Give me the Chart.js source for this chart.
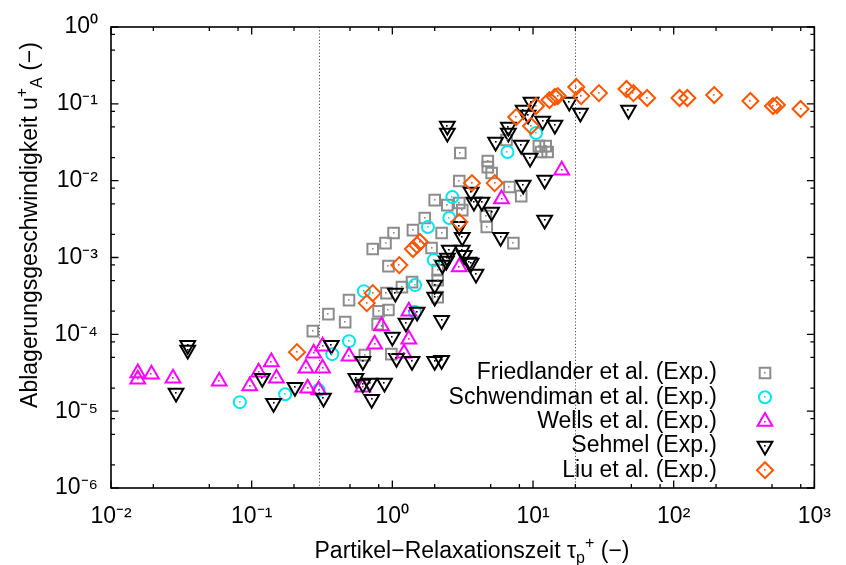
<!DOCTYPE html>
<html><head><meta charset="utf-8">
<script src="https://cdn.jsdelivr.net/npm/chart.js@4.4.1/dist/chart.umd.min.js"></script>
<style>html,body{margin:0;padding:0;background:#fff}</style>
</head><body>
<canvas id="c" width="846" height="565"></canvas>
<script>
// ---------- data ----------
const seriesNames = ['Friedlander et al. (Exp.)', 'Schwendiman et al. (Exp.)', 'Wells et al. (Exp.)', 'Sehmel (Exp.)', 'Liu et al. (Exp.)'];

const friedlanderX = [0.272,0.351,0.462,0.492,0.637,0.725,0.894,1.02,0.938,0.908,0.798,0.938,0.786,0.984,1.17,1.38,1.40,1.70,1.90,2.00,2.10,2.10,2.10,2.24,2.46,3.04,2.99,2.99,3.14,4.62,4.69,4.77,4.77,5.08,6.80,7.25,8.24,11.0,12.3,11.4,12.7,6.48];
const friedlanderY = [1.10e-4,1.83e-4,1.44e-4,2.79e-4,5.36e-5,1.29e-3,1.54e-3,2.08e-3,7.73e-4,3.44e-4,2.00e-4,2.07e-4,1.36e-4,5.52e-5,4.12e-4,4.78e-4,2.27e-3,3.26e-3,1.33e-3,5.59e-3,6.85e-4,5.08e-4,3.05e-4,2.08e-3,4.81e-3,2.29e-2,9.88e-3,5.11e-3,4.14e-3,3.46e-3,2.49e-3,1.80e-2,1.50e-2,1.26e-2,8.26e-3,1.54e-3,6.30e-3,2.82e-2,2.82e-2,2.36e-2,2.36e-2,3.38e-2];

const schwendimanX = [0.0824,0.173,0.299,0.374,0.492,0.627,1.45,1.45,1.79,1.97,2.54,2.67,6.58,10.5];
const schwendimanY = [1.31e-5,1.66e-5,1.88e-5,5.52e-5,8.15e-5,3.65e-4,4.37e-4,1.95e-4,2.49e-3,9.25e-4,3.26e-3,6.11e-3,2.36e-2,4.17e-2];

const wellsX = [0.0155,0.0155,0.0194,0.0276,0.0588,0.0968,0.112,0.138,0.150,0.243,0.250,0.276,0.299,0.319,0.319,0.492,0.617,0.748,0.838,1.21,1.31,1.31,2.99,5.97,16.0];
const wellsY = [3.13e-5,2.61e-5,3.03e-5,2.69e-5,2.46e-5,2.12e-5,3.22e-5,4.35e-5,2.69e-5,3.63e-5,1.99e-5,5.69e-5,1.88e-5,3.63e-5,7.02e-5,5.20e-5,2.05e-5,7.45e-5,1.28e-4,5.69e-5,2.00e-4,8.66e-5,7.50e-4,5.76e-3,1.37e-2];

const sehmelX = [0.0351,0.0351,0.0290,0.119,0.143,0.203,0.324,0.368,0.551,0.617,0.617,0.690,0.713,0.879,1.00,1.05,1.25,1.07,1.38,2.00,2.24,1.50,2.00,2.00,2.24,2.27,2.46,3.24,3.63,3.93,3.63,3.80,4.33,5.08,8.51,12.1,12.1,5.88,3.14,2.54,3.14,2.42,3.51,2.99,2.46,2.46,6.68,6.68,5.42,8.24,9.53,9.68,8.51,9.23,11.7,14.3,18.1,21.7,47.7];
const sehmelY = [7.23e-5,6.23e-5,1.72e-5,2.69e-5,1.27e-5,2.05e-5,1.48e-5,7.23e-5,2.69e-5,4.48e-5,2.25e-5,2.32e-5,1.43e-5,2.32e-5,9.20e-5,3.44e-4,1.40e-4,4.90e-5,4.48e-5,4.48e-5,4.61e-5,1.95e-4,4.37e-4,3.05e-4,1.53e-4,7.96e-4,9.82e-4,1.07e-3,8.45e-4,6.08e-4,7.11e-3,5.27e-3,5.27e-3,3.90e-3,8.77e-3,1.02e-2,3.07e-3,1.84e-3,1.84e-3,1.25e-3,1.25e-3,8.98e-4,8.71e-4,2.56e-3,5.14e-2,4.17e-2,4.99e-2,4.17e-2,3.18e-2,2.91e-2,1.97e-2,0.106,8.30e-2,7.15e-2,5.97e-2,5.30e-2,0.106,7.59e-2,8.30e-2];

const liuX = [0.210,0.658,0.725,1.12,1.40,1.50,1.57,2.99,3.68,5.34,7.60,9.68,10.5,13.1,14.3,15.0,20.3,22.0,29.4,46.2,51.7,64.7,110,125,194,351,508,542,798];
const liuY = [5.86e-5,2.55e-4,3.44e-4,7.96e-4,1.29e-3,1.45e-3,1.59e-3,2.89e-3,9.30e-3,9.30e-3,6.73e-2,5.14e-2,9.36e-2,0.112,0.123,0.126,0.166,0.126,0.138,0.156,0.138,0.119,0.119,0.119,0.130,0.109,9.36e-2,9.64e-2,8.56e-2];

const xMajorTicks = [1e-2,1e-1,1e0,1e1,1e2,1e3];
const xTickLabels = ['10\u207B\u00B2','10\u207B\u00B9','10\u2070','10\u00B9','10\u00B2','10\u00B3'];
const yMajorTicks = [1e-6,1e-5,1e-4,1e-3,1e-2,1e-1,1e0];
const yTickLabels = ['10\u207B\u2076','10\u207B\u2075','10\u207B\u2074','10\u207B\u00B3','10\u207B\u00B2','10\u207B\u00B9','10\u2070'];
const minorMultipliers = [2,5,8];
const refLinesX = [0.3, 20];

// ---------- helpers ----------
const FONT = "'Liberation Sans', Arial, Helvetica, sans-serif";
const FS = 23;
function pts(xs, ys) { return xs.map((x, i) => ({x: x, y: ys[i]})); }
function tickList(majors) {
  const out = [];
  majors.forEach((m, i) => {
    out.push({value: m});
    if (i < majors.length - 1) minorMultipliers.forEach(k => out.push({value: m * k}));
  });
  return out;
}
function isMajor(v, majors) { return majors.findIndex(t => Math.abs(Math.log10(t) - Math.log10(v)) < 1e-6); }

const styles = [
  {pointStyle: 'rect', radius: 7.5, color: '#8c8c8c', rotation: 0},
  {pointStyle: 'circle', radius: 6, color: '#00e5ee', rotation: 0},
  {pointStyle: 'triangle', radius: 8.5, color: '#ff00ff', rotation: 0},
  {pointStyle: 'triangle', radius: 8.5, color: '#000000', rotation: 180},
  {pointStyle: 'rectRot', radius: 8, color: '#ff5500', rotation: 0}
];
const seriesData = [pts(friedlanderX, friedlanderY), pts(schwendimanX, schwendimanY), pts(wellsX, wellsY), pts(sehmelX, sehmelY), pts(liuX, liuY)];

const datasets = seriesData.map((d, i) => ({
  label: seriesNames[i],
  data: d,
  order: 5 - i,
  pointStyle: styles[i].pointStyle,
  pointRadius: styles[i].radius,
  pointHoverRadius: styles[i].radius,
  pointRotation: styles[i].rotation,
  borderColor: styles[i].color,
  backgroundColor: 'rgba(0,0,0,0)',
  pointBorderWidth: 2,
  pointHoverBorderWidth: 2,
  showLine: false
}));

function drawRich(ctx, parts, x, y) {
  let total = 0;
  parts.forEach(p => { ctx.font = p[1] + 'px ' + FONT; total += ctx.measureText(p[0]).width; });
  let cx = x - total / 2;
  parts.forEach(p => { ctx.font = p[1] + 'px ' + FONT; ctx.fillText(p[0], cx, y + p[2]); cx += ctx.measureText(p[0]).width; });
}

const decorPlugin = {
  id: 'decor',
  beforeDatasetsDraw(chart) {
    const {ctx, chartArea: a, scales: {x}} = chart;
    ctx.save();
    ctx.strokeStyle = '#555';
    ctx.lineWidth = 1;
    ctx.setLineDash([1.2, 2]);
    refLinesX.forEach(v => {
      const px = Math.round(x.getPixelForValue(v)) + 0.5;
      ctx.beginPath(); ctx.moveTo(px, a.top); ctx.lineTo(px, a.bottom); ctx.stroke();
    });
    ctx.restore();
  },
  afterDatasetsDraw(chart) {
    const {ctx, chartArea: a, scales: {x, y}} = chart;
    ctx.save();
    // center dots
    chart.getSortedVisibleDatasetMetas().slice().reverse().forEach(meta => {
      const col = chart.data.datasets[meta.index].borderColor;
      ctx.fillStyle = col;
      meta.data.forEach(el => { ctx.fillRect(Math.round(el.x) - 1, Math.round(el.y) - 1, 1.6, 1.6); });
    });
    // frame
    ctx.strokeStyle = '#000';
    ctx.lineWidth = 1.6;
    ctx.strokeRect(a.left, a.top, a.right - a.left, a.bottom - a.top);
    // inward ticks
    ctx.lineWidth = 1.3;
    ctx.beginPath();
    x.ticks.forEach(t => {
      const px = x.getPixelForValue(t.value);
      const L = isMajor(t.value, xMajorTicks) >= 0 ? 7.5 : 4;
      ctx.moveTo(px, a.bottom); ctx.lineTo(px, a.bottom - L);
      ctx.moveTo(px, a.top); ctx.lineTo(px, a.top + L);
    });
    y.ticks.forEach(t => {
      const py = y.getPixelForValue(t.value);
      const L = isMajor(t.value, yMajorTicks) >= 0 ? 7.5 : 4;
      ctx.moveTo(a.left, py); ctx.lineTo(a.left + L, py);
      ctx.moveTo(a.right, py); ctx.lineTo(a.right - L, py);
    });
    ctx.stroke();
    // legend
    ctx.font = FS + 'px ' + FONT;
    ctx.textAlign = 'right';
    ctx.textBaseline = 'middle';
    const textRight = 717, markX = 765, row0 = 373, step = 24.3;
    seriesNames.forEach((name, i) => {
      const ry = row0 + i * step;
      ctx.fillStyle = '#000';
      ctx.fillText(name, textRight, ry);
      const s = styles[i];
      ctx.strokeStyle = s.color; ctx.fillStyle = 'rgba(0,0,0,0)'; ctx.lineWidth = 2;
      Chart.helpers.drawPoint(ctx, {pointStyle: s.pointStyle, radius: s.radius, rotation: s.rotation, borderWidth: 2}, markX, ry);
      ctx.fillStyle = s.color;
      ctx.fillRect(markX - 1, Math.round(ry) - 1, 1.6, 1.6);
    });
    // axis titles
    ctx.fillStyle = '#000';
    ctx.textAlign = 'left';
    ctx.textBaseline = 'alphabetic';
    drawRich(ctx, [['Partikel\u2212Relaxationszeit \u03C4', FS, 0], ['p', 16, 5], ['+', 16, -10], [' (\u2212)', FS, 0]], 472, 558);
    ctx.translate(37, 225);
    ctx.rotate(-Math.PI / 2);
    drawRich(ctx, [['Ablagerungsgeschwindigkeit u', FS, 0], ['+', 16, -10], ['A', 16, 5], [' (\u2212)', FS, 0]], 0, 0);
    ctx.restore();
  }
};

new Chart(document.getElementById('c'), {
  type: 'scatter',
  data: {datasets: datasets},
  options: {
    responsive: false,
    animation: false,
    devicePixelRatio: 1,
    events: [],
    layout: {padding: {top: 27, right: 20, left: 0, bottom: 0}},
    plugins: {legend: {display: false}, tooltip: {enabled: false}},
    scales: {
      x: {
        type: 'logarithmic', min: 1e-2, max: 1e3,
        grid: {display: false, drawTicks: false},
        border: {display: false},
        afterBuildTicks: s => { s.ticks = tickList(xMajorTicks); },
        afterFit: s => { s.height = 77; },
        ticks: {
          autoSkip: false, maxRotation: 0, padding: 15, color: '#000',
          font: {family: FONT, size: FS},
          callback: v => { const i = isMajor(v, xMajorTicks); return i >= 0 ? xTickLabels[i] : ''; }
        }
      },
      y: {
        type: 'logarithmic', min: 1e-6, max: 1e0,
        grid: {display: false, drawTicks: false},
        border: {display: false},
        afterBuildTicks: s => { s.ticks = tickList(yMajorTicks); },
        afterFit: s => { s.width = 111; },
        ticks: {
          autoSkip: false, padding: 13, color: '#000',
          font: {family: FONT, size: FS},
          callback: v => { const i = isMajor(v, yMajorTicks); return i >= 0 ? yTickLabels[i] : ''; }
        }
      }
    }
  },
  plugins: [decorPlugin]
});
</script>
</body></html>
